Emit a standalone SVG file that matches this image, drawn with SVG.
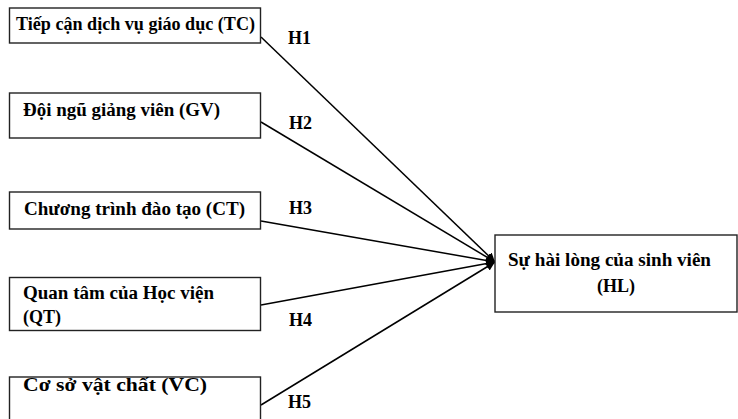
<svg xmlns="http://www.w3.org/2000/svg" width="738" height="419" viewBox="0 0 738 419">
<defs>
<style>
.box{fill:#fff;stroke:#222;stroke-width:1.4}
.t{font-family:'Liberation Serif',serif;font-weight:700;font-size:18px;fill:#000}
.c{stroke:#000;stroke-width:1.5;fill:none}
</style>
<marker id="ah" viewBox="0 0 10 10" refX="10" refY="5" markerWidth="6" markerHeight="6" orient="auto" markerUnits="strokeWidth">
<path d="M0,0 L10,5 L0,10 z" fill="#000"/>
</marker>
</defs>
<rect width="738" height="419" fill="#fff"/>
<g id="connectors">
<line class="c" x1="261" y1="37" x2="495" y2="262" marker-end="url(#ah)"/>
<line class="c" x1="261" y1="122" x2="495" y2="262" marker-end="url(#ah)"/>
<line class="c" x1="261" y1="221" x2="495" y2="262" marker-end="url(#ah)"/>
<line class="c" x1="261" y1="305" x2="495" y2="262" marker-end="url(#ah)"/>
<line class="c" x1="261" y1="405" x2="495" y2="262" marker-end="url(#ah)"/>
<text class="t" x="288" y="44">H1</text>
<text class="t" x="289" y="129">H2</text>
<text class="t" x="289" y="214">H3</text>
<text class="t" x="289" y="326">H4</text>
<text class="t" x="288" y="408">H5</text>
</g>
<g id="TC">
<rect class="box" x="9.5" y="8" width="251" height="35"/>
<text class="t" x="16" y="30" textLength="239" lengthAdjust="spacingAndGlyphs">Tiếp cận dịch vụ giáo dục (TC)</text>
</g>
<g id="GV">
<rect class="box" x="9.5" y="93" width="251" height="45"/>
<text class="t" x="23" y="116" textLength="197" lengthAdjust="spacingAndGlyphs">Đội ngũ giảng viên (GV)</text>
</g>
<g id="CT">
<rect class="box" x="9.5" y="192" width="251" height="37"/>
<text class="t" x="24" y="215" textLength="221" lengthAdjust="spacingAndGlyphs">Chương trình đào tạo (CT)</text>
</g>
<g id="QT">
<rect class="box" x="9.5" y="277.5" width="251" height="53"/>
<text class="t" x="23" y="299" textLength="191" lengthAdjust="spacingAndGlyphs">Quan tâm của Học viện</text>
<text class="t" x="23" y="323">(QT)</text>
</g>
<g id="VC">
<rect class="box" x="9.5" y="377" width="251" height="50"/>
<text class="t" x="23" y="391" textLength="184" lengthAdjust="spacingAndGlyphs">Cơ sở vật chất (VC)</text>
</g>
<g id="HL">
<rect class="box" x="495" y="235" width="242" height="77"/>
<text class="t" x="508" y="266" textLength="203" lengthAdjust="spacingAndGlyphs">Sự hài lòng của sinh viên</text>
<text class="t" x="616" y="292" text-anchor="middle">(HL)</text>
</g>
</svg>
